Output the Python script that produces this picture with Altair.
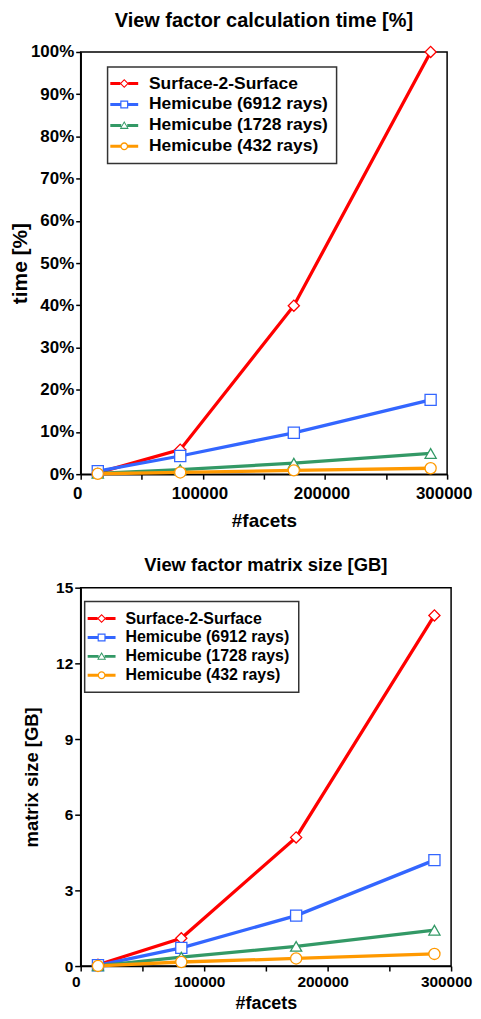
import altair as alt
import pandas as pd

series = ["Surface-2-Surface", "Hemicube (6912 rays)", "Hemicube (1728 rays)", "Hemicube (432 rays)"]
facets = [14000, 81500, 174500, 286500]

# calculation time [%]
time_s2s = [0.3, 5.8, 39.9, 100.0]
time_h6912 = [0.7, 4.3, 9.8, 17.6]
time_h1728 = [0.2, 1.1, 2.6, 4.9]
time_h432 = [0.1, 0.4, 0.9, 1.4]

# matrix size [GB]
size_s2s = [0.05, 1.1, 5.1, 13.9]
size_h6912 = [0.03, 0.72, 2.0, 4.2]
size_h1728 = [0.01, 0.35, 0.78, 1.42]
size_h432 = [0.005, 0.16, 0.3, 0.48]

x_ticks = [0, 50000, 100000, 150000, 200000, 250000, 300000]
time_ticks = [0, 10, 20, 30, 40, 50, 60, 70, 80, 90, 100]
size_ticks = [0, 3, 6, 9, 12, 15]

colors = ["#ff0000", "#3366ff", "#339966", "#ff9900"]
shapes = ["diamond", "square", "triangle-up", "circle"]

# legend symbols: short line with a small hollow marker (pixel units, symbolSize=4)
legend_paths = [
    "M-14,-1.5H-4V1.5H-14Z M4,-1.5H14V1.5H4Z M0,-4.5L4.5,0L0,4.5L-4.5,0Z M0,-3L-3,0L0,3L3,0Z",
    "M-14,-1.5H-4V1.5H-14Z M4,-1.5H14V1.5H4Z M-4,-4H4V4H-4Z M-2.8,-2.8V2.8H2.8V-2.8Z",
    "M-14,-1.5H-3V1.5H-14Z M3,-1.5H14V1.5H3Z M0,-4.5L4.5,3.5L-4.5,3.5Z M0,-2.3L-2.9,2.4L2.9,2.4Z",
    "M-14,-1.5H-3.7V1.5H-14Z M3.7,-1.5H14V1.5H3.7Z M-4,0A4 4 0 1 1 4,0A4 4 0 1 1 -4,0Z M-2.7,0A2.7 2.7 0 1 0 2.7,0A2.7 2.7 0 1 0 -2.7,0Z",
]

FONT = "Liberation Sans"


def long_df(cols):
    rows = []
    for name, vals in zip(series, cols):
        for f, v in zip(facets, vals):
            rows.append({"series": name, "facets": f, "value": v})
    return pd.DataFrame(rows)


def panel(df, title, title_size, title_offset, ytitle, ydomain, yticks, ylabel_expr, width, height,
          label_size, ytitle_size, xtitle_size, legend_x, legend_y, legend_font,
          legend_row_pad, ytick_size, ytitle_pad, xlabel_offset, xlabel_pad, xtitle_pad,
          legend_pad):
    x_enc = alt.X(
        "facets:Q",
        scale=alt.Scale(domain=[0, 300000], nice=False),
        axis=alt.Axis(
            values=x_ticks, labelExpr="datum.value % 100000 == 0 ? datum.label : ''",
            format="d", title="#facets", grid=False, labelFontSize=label_size,
            titleFontSize=xtitle_size, tickSize=5, labelPadding=xlabel_pad,
            titlePadding=xtitle_pad, labelFlush=False, labelOffset=xlabel_offset,
            labelOverlap=False,
        ),
    )
    y_enc = alt.Y(
        "value:Q",
        scale=alt.Scale(domain=ydomain, nice=False),
        axis=alt.Axis(
            values=yticks, labelExpr=ylabel_expr, title=ytitle, grid=False,
            labelFontSize=label_size, titleFontSize=ytitle_size, tickSize=ytick_size,
            labelPadding=2, titlePadding=ytitle_pad, labelFlush=False, labelOverlap=False,
        ),
    )
    layers = []
    for name, col in zip(series, colors):
        ln = alt.Chart(df).transform_filter(alt.datum.series == name).mark_line(
            strokeWidth=3.3, color=col
        ).encode(x=x_enc, y=y_enc)
        layers.append(ln)
    for name, col, shp in zip(series, colors, shapes):
        pts = alt.Chart(df).transform_filter(alt.datum.series == name).mark_point(
            shape=shp, filled=True, fill="white", stroke=col, strokeWidth=1.3, size=125, opacity=1
        ).encode(x=x_enc, y=y_enc)
        layers.append(pts)
    leg_common = dict(
        orient="none", legendX=legend_x, legendY=legend_y, title=None,
        fillColor="white", strokeColor="#333333", padding=legend_pad,
        labelFont=FONT, labelFontSize=legend_font, labelFontWeight="bold",
        labelColor="black", symbolSize=4, symbolStrokeWidth=0, labelOffset=16,
        rowPadding=legend_row_pad, symbolOpacity=1, labelLimit=400,
    )
    legend_layer = alt.Chart(df).transform_filter("false").mark_point(filled=True).encode(
        color=alt.Color("series:N", scale=alt.Scale(domain=series, range=colors),
                        legend=alt.Legend(**leg_common)),
        shape=alt.Shape("series:N", scale=alt.Scale(domain=series, range=legend_paths),
                        legend=alt.Legend(**leg_common)),
    )
    layers.append(legend_layer)
    return alt.layer(*layers).properties(
        width=width, height=height,
        title=alt.TitleParams(title, fontSize=title_size, font=FONT, fontWeight="bold",
                              color="black", anchor="middle", offset=title_offset),
    )


top = panel(long_df([time_s2s, time_h6912, time_h1728, time_h432]),
            "View factor calculation time [%]", 20, 12, "time [%]", [0, 100], time_ticks,
            "datum.value + '%'", 368, 424, 17, 21, 19, 27, 15, 17.5, 2, 5, 0, -3.5, 6, 11, 8)
bottom = panel(long_df([size_s2s, size_h6912, size_h1728, size_h432]),
               "View factor matrix size [GB]", 18.5, 6, "matrix size [GB]", [0, 15], size_ticks,
               "datum.label", 372, 380, 15.5, 18.5, 18, 4, 14, 16, 3, 6, 14, -5, 4, 4, 9)

chart = alt.vconcat(top, bottom, spacing=23).resolve_scale(
    color="independent", shape="independent"
).resolve_legend(color="independent", shape="independent").properties(
    padding={"left": 0, "right": 0, "top": 0, "bottom": 0}
).configure_view(stroke="black", strokeWidth=1.5).configure_axis(
    labelFont=FONT, titleFont=FONT, labelFontWeight="bold", titleFontWeight="bold",
    labelColor="black", titleColor="black", domainColor="black", tickColor="black",
    domainWidth=1.5, tickWidth=1.5,
).configure_legend(strokeWidth=1.5)

chart.save("out.html", embed_options={"renderer": "svg", "actions": False})
